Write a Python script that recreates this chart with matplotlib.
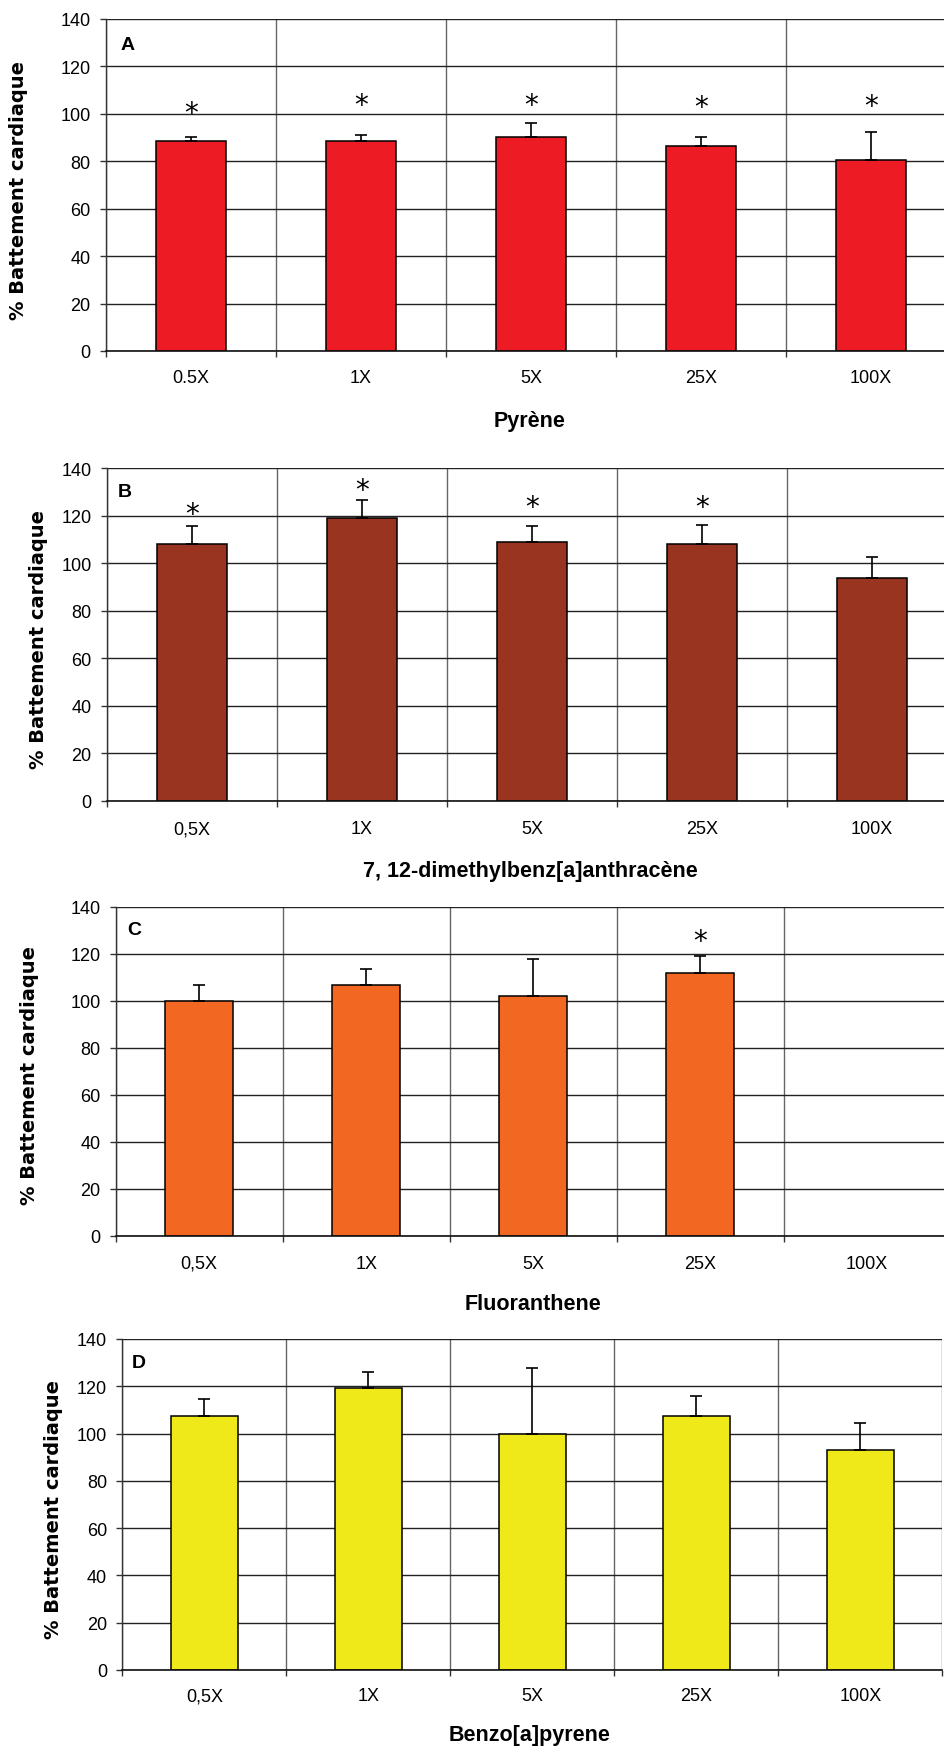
import numpy as np
import matplotlib
matplotlib.use("Agg")
import matplotlib.pyplot as plt

plt.rcParams['font.family'] = ['Liberation Sans', 'DejaVu Sans']

# ---------------- data ----------------
categories_A = ["0.5X", "1X", "5X", "25X", "100X"]
categories = ["0,5X", "1X", "5X", "25X", "100X"]

values_A = [88.7, 88.7, 90.4, 86.6, 80.7]
errors_A = [1.7, 2.2, 5.6, 3.8, 11.7]
stars_A = [103.2, 106.5, 106.5, 105.6, 106.0]

values_B = [108.2, 119.0, 108.9, 108.2, 93.8]
errors_B = [7.3, 7.4, 6.6, 8.0, 8.6]
stars_B = [123.6, 133.4, 126.4, 126.4, None]

values_C = [100.0, 106.7, 102.0, 111.7, None]
errors_C = [6.6, 6.7, 15.8, 7.5, None]
stars_C = [None, None, None, 128.4, None]

values_D = [107.3, 119.2, 99.7, 107.3, 93.1]
errors_D = [7.5, 7.0, 27.9, 8.5, 11.4]
stars_D = [None, None, None, None, None]

xlabels = ["Pyrène", "7, 12-dimethylbenz[a]anthracène", "Fluoranthene", "Benzo[a]pyrene"]
letters = ["A", "B", "C", "D"]
ylabel = "% Battement cardiaque"
yticks = [0, 20, 40, 60, 80, 100, 120, 140]

colors = ["#ED1C24", "#98341F", "#F26722", "#F0E91A"]

# ---------------- layout (pixels) ----------------
W, H = 945, 1749
fig = plt.figure(figsize=(W / 100, H / 100), dpi=100)

# left, top(140), bottom(0), category width
panels_px = [
    (106, 20, 352, 170),
    (107, 469, 802, 170),
    (115.7, 907.7, 1237, 167),
    (122.4, 1340, 1671, 164),
]
letter_pos = [(128, 45), (125, 493), (134, 931), (139, 1364)]
xlabel_pos = [(530, 422), (530, 872), (533, 1305), (530, 1736)]
ylabel_pos = [(19, 190), (39, 640), (30, 1076), (54, 1510)]
xtick_pad = [13, 14, 13.5, 12.5]
star_shift = 2.8

data = [
    (categories_A, values_A, errors_A, stars_A),
    (categories, values_B, errors_B, stars_B),
    (categories, values_C, errors_C, stars_C),
    (categories, values_D, errors_D, stars_D),
]

for i, ((cats, vals, errs, stars), (left, top, bottom, cw)) in enumerate(zip(data, panels_px)):
    ax = fig.add_axes([left / W, 1 - bottom / H, 5 * cw / W, (bottom - top) / H])
    x = np.arange(len(cats))
    v = np.array([np.nan if a is None else a for a in vals], dtype=float)
    e = np.array([0 if a is None else a for a in errs], dtype=float)
    mask = ~np.isnan(v)
    ax.set_axisbelow(True)
    ax.bar(x[mask], v[mask], width=0.41, color=colors[i], edgecolor="black",
           linewidth=1.1, zorder=2)
    ax.errorbar(x[mask], v[mask], yerr=[np.zeros(mask.sum()), e[mask]], fmt="none",
                ecolor="black", elinewidth=1.2, capsize=4.5, capthick=1.2, zorder=3)
    for xi, s in zip(x, stars):
        if s is not None:
            ax.text(xi, s - star_shift, "*", ha="center", va="center", fontsize=20,
                    family="DejaVu Sans", zorder=4)

    ax.set_xlim(-0.5, 4.5)
    ax.set_ylim(0, 140)
    ax.set_yticks(yticks)
    ax.set_yticklabels([str(t) for t in yticks], fontsize=13)
    ax.set_xticks(np.arange(-0.5, 5.0, 1.0))
    ax.set_xticklabels([])
    ax.set_xticks(x, minor=True)
    ax.set_xticklabels(cats, minor=True, fontsize=13)
    ax.tick_params(axis="x", which="minor", length=0, pad=xtick_pad[i])
    ax.tick_params(axis="x", which="major", length=4, width=1, color="#333333", direction="out")
    ax.tick_params(axis="y", length=4, width=1, color="#333333", pad=7, direction="out")

    ax.grid(axis="y", color="#222222", linewidth=1.0)
    ax.grid(axis="x", which="major", color="#666666", linewidth=1.0)
    for sp in ["top", "right"]:
        ax.spines[sp].set_visible(False)
    ax.spines["left"].set_color("#333333")
    ax.spines["bottom"].set_color("#111111")
    ax.spines["left"].set_linewidth(1.0)
    ax.spines["bottom"].set_linewidth(1.2)

    lx, ly = letter_pos[i]
    fig.text(lx / W, 1 - ly / H, letters[i], ha="center", va="center",
             fontsize=14, fontweight="bold")
    xx, xy = xlabel_pos[i]
    fig.text(xx / W, 1 - xy / H, xlabels[i], ha="center", va="center",
             fontsize=15.5, fontweight="bold")
    yx, yy = ylabel_pos[i]
    fig.text(yx / W, 1 - yy / H, ylabel, ha="center", va="center", rotation=90,
             fontsize=14, fontweight="bold", family="DejaVu Sans")

fig.savefig("out.png", dpi=100)
